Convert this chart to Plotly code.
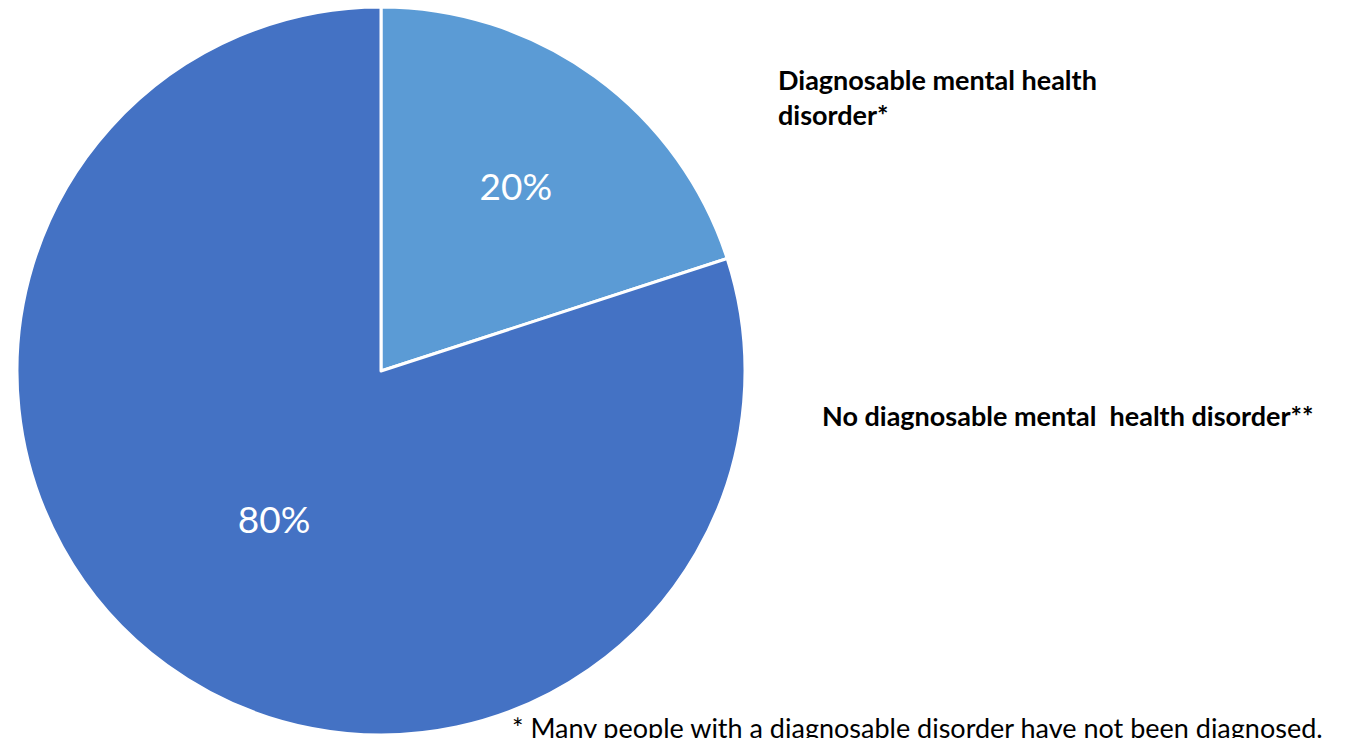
import plotly.graph_objects as go

categories = ["Diagnosable mental health disorder*", "No diagnosable mental  health disorder**"]
values = [20, 80]
colors = ["#5B9BD5", "#4472C4"]
footnote = "* Many people with a diagnosable disorder have not been diagnosed."

W, H = 1350, 738
cx, cy, R = 381, 371, 364

fig = go.Figure()
fig.add_trace(go.Pie(
    labels=categories,
    values=values,
    sort=False,
    direction="clockwise",
    rotation=0,
    marker=dict(colors=colors, line=dict(color="white", width=3)),
    textinfo="percent",
    textposition="inside",
    insidetextorientation="horizontal",
    textfont=dict(family="Lato", size=37, color="white"),
    domain=dict(x=[(cx - R) / W, (cx + R) / W],
                y=[(H - cy - R) / H, (H - cy + R) / H]),
    showlegend=False,
    hoverinfo="label+percent",
))

annotations = [
    dict(text="<b>Diagnosable mental health<br>disorder*</b>", x=776 / W, y=1 - 97 / H,
         xanchor="left", yanchor="middle", align="left",
         font=dict(family="Lato", size=27, color="black")),
    dict(text="<b>" + categories[1] + "</b>", x=820 / W, y=1 - 415 / H,
         xanchor="left", yanchor="middle", align="left",
         font=dict(family="Lato", size=27, color="black")),
    dict(text=footnote, x=510 / W, y=1 - 727 / H,
         xanchor="left", yanchor="middle", align="left",
         font=dict(family="Lato", size=27, color="black")),
]
for a in annotations:
    a.update(xref="paper", yref="paper", showarrow=False)

fig.update_layout(
    width=W, height=H,
    margin=dict(l=0, r=0, t=0, b=0),
    paper_bgcolor="white",
    plot_bgcolor="white",
    annotations=annotations,
)

fig.write_html("out.html")
